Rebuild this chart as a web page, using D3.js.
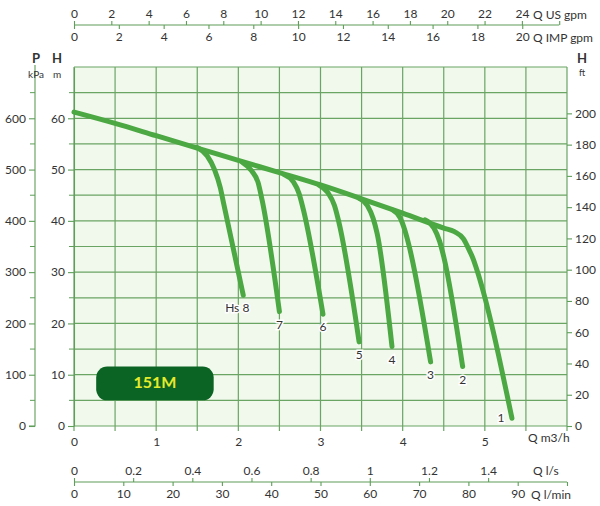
<!DOCTYPE html>
<html><head><meta charset="utf-8">
<script src="https://cdn.jsdelivr.net/npm/d3@7"></script>
<style>
body{margin:0;background:#fff}
text{font-family:Lato,"Open Sans",sans-serif;fill:#333}
</style>
</head><body><svg id="c" width="600" height="506"></svg>
<script>
// ---- data (Q in m3/h, H in m) ----
const curve1 = [[0,61.2],[0.5,59.0],[1,56.6],[1.5,54.2],[2,51.8],[2.5,49.4],[3,47.0],[3.5,44.3],[4,41.5],[4.5,38.6],[4.63,37.9],[4.74,36.5],[4.81,34.3],[4.86,32.5],[4.89,31.1],[5.33,1.5]];
const curve2 = [[4.27,40.2],[4.38,38.6],[4.45,36.0],[4.50,33.0],[4.73,11.6]];
const curve3 = [[3.88,42.1],[3.97,40.6],[4.03,38.0],[4.08,35.0],[4.34,12.5]];
const curve4 = [[3.47,44.4],[3.57,43.0],[3.64,40.5],[3.69,37.5],[3.87,15.5]];
const curve5 = [[2.98,47.0],[3.09,45.5],[3.17,43.0],[3.22,40.0],[3.47,16.4]];
const curve6 = [[2.56,49.0],[2.67,47.6],[2.74,45.3],[2.79,42.3],[3.03,21.8]];
const curve7 = [[2.05,51.4],[2.16,49.8],[2.24,47.5],[2.29,44.0],[2.50,22.3]];
const curve8 = [[1.50,54.3],[1.62,52.7],[1.71,50.0],[1.78,46.5],[1.82,43.5],[2.06,25.5]];
const curveLabels = ["1","2","3","4","5","6","7","Hs 8"];
const modelName = "151M";

const qM3hTicks = [0,1,2,3,4,5];
const usGpmTicks = [0,2,4,6,8,10,12,14,16,18,20,22,24];
const impGpmTicks = [0,2,4,6,8,10,12,14,16,18,20];
const lsTicks = [0,0.2,0.4,0.6,0.8,1,1.2,1.4];
const lminTicks = [0,10,20,30,40,50,60,70,80,90];
const hmTicks = [0,10,20,30,40,50,60];
const kpaTicks = [0,100,200,300,400,500,600];
const ftTicks = [0,20,40,60,80,100,120,140,160,180,200];

// ---- layout ----
const svg = d3.select("#c");
const L=74, R=567, B=426, T=67;
const x = d3.scaleLinear().domain([0,6]).range([L,R]);
const y = d3.scaleLinear().domain([0,70]).range([B,T]);
const GRID="#6aa564", AX="#5e9e58", LINE="#4ba842";
const fmt = d3.format("~g");

// derived unit scales
const xUS = d3.scaleLinear().domain([0,6/0.2271247]).range([L,R]);
const xIMP = d3.scaleLinear().domain([0,6/0.2727655]).range([L,R]);
const xLS = d3.scaleLinear().domain([0,6/3.6]).range([L,R]);
const xLMIN = d3.scaleLinear().domain([0,6/0.06]).range([L,R]);
const yKPA = d3.scaleLinear().domain([0,700]).range([B,T]);
const yFT = d3.scaleLinear().domain([0,70*3.28084]).range([B,T]);

// plot background
svg.append("rect").attr("x",L).attr("y",T).attr("width",R-L).attr("height",B-T).attr("fill","#f1f8ec");

// grid
const g = svg.append("g");
g.selectAll("line.v").data(d3.range(0,6.01,0.5)).join("line")
 .attr("x1",d=>x(d)).attr("x2",d=>x(d)).attr("y1",T).attr("y2",B+5)
 .attr("stroke",GRID).attr("stroke-width",1.2);
g.selectAll("line.h").data(d3.range(0,70.01,5)).join("line")
 .attr("x1",L).attr("x2",R).attr("y1",d=>y(d)).attr("y2",d=>y(d))
 .attr("stroke",GRID).attr("stroke-width",1.2);

function styleAxis(sel){
  sel.selectAll("path,line").attr("stroke",AX).attr("stroke-width",1.1);
  sel.selectAll("text").attr("font-size",12).attr("fill","#333").style("font-family","Lato,'Open Sans',sans-serif");
}

// left H m axis
const aH = svg.append("g").attr("transform",`translate(${L},0)`)
 .call(d3.axisLeft(y).tickValues(hmTicks).tickFormat(fmt).tickSize(6).tickPadding(3).tickSizeOuter(0));
styleAxis(aH);
aH.append("g").selectAll("line").data(d3.range(5,70,10)).join("line")
 .attr("x1",-5).attr("x2",0).attr("y1",d=>y(d)).attr("y2",d=>y(d)).attr("stroke",AX);

// kPa axis
const aP = svg.append("g").attr("transform","translate(35,0)")
 .call(d3.axisLeft(yKPA).tickValues(kpaTicks).tickFormat(fmt).tickSize(6).tickPadding(3).tickSizeOuter(0));
styleAxis(aP);
aP.select("path.domain").attr("d",`M0,${T-2}V${B}H-6`);
aP.append("g").selectAll("line").data(d3.range(50,700,100)).join("line")
 .attr("x1",-5).attr("x2",0).attr("y1",d=>yKPA(d)).attr("y2",d=>yKPA(d)).attr("stroke",AX);

// right ft axis
const aF = svg.append("g").attr("transform",`translate(${R},0)`)
 .call(d3.axisRight(yFT).tickValues(ftTicks).tickFormat(fmt).tickSize(5).tickPadding(3).tickSizeOuter(0));
styleAxis(aF);
aF.select("path.domain").remove();

// bottom m3/h labels
const aQ = svg.append("g").attr("transform",`translate(0,${B})`)
 .call(d3.axisBottom(x).tickValues(qM3hTicks).tickFormat(fmt).tickSize(0).tickPadding(11));
styleAxis(aQ);
aQ.select("path.domain").remove();
aQ.selectAll(".tick line").remove();

// top axes (US gpm up, IMP gpm down)
const topY = 25;
const aUS = svg.append("g").attr("transform",`translate(0,${topY})`)
 .call(d3.axisTop(xUS).tickValues(usGpmTicks.concat([26])).tickFormat(d=>d===26?"":fmt(d)).tickSize(4).tickPadding(3).tickSizeOuter(0));
styleAxis(aUS);
aUS.select("path.domain").attr("d",`M${L},0H${xUS(26)}`);
const aIMP = svg.append("g").attr("transform",`translate(0,${topY})`)
 .call(d3.axisBottom(xIMP).tickValues(impGpmTicks).tickFormat(fmt).tickSize(4).tickPadding(3).tickSizeOuter(0));
styleAxis(aIMP);
aIMP.select("path.domain").remove();

// bottom flow axes (l/s up, l/min down)
const botY = 482;
const aLS = svg.append("g").attr("transform",`translate(0,${botY})`)
 .call(d3.axisTop(xLS).tickValues(lsTicks).tickFormat(fmt).tickSize(4).tickPadding(3).tickSizeOuter(0));
styleAxis(aLS);
aLS.select("path.domain").attr("d",`M${L},0H${xLMIN(100)}`);
const aLM = svg.append("g").attr("transform",`translate(0,${botY})`)
 .call(d3.axisBottom(xLMIN).tickValues(lminTicks.concat([100])).tickFormat(d=>d===100?"":fmt(d)).tickSize(4).tickPadding(3).tickSizeOuter(0));
styleAxis(aLM);
aLM.select("path.domain").remove();

// unit labels
const unit = (tx,ty,t,opt={})=>svg.append("text").attr("x",tx).attr("y",ty).text(t)
  .attr("font-size",opt.size||12).attr("font-weight",opt.bold?"bold":null)
  .attr("text-anchor",opt.anchor||"start");
unit(533,19,"Q US gpm");
unit(533,42,"Q IMP gpm");
unit(528,442,"Q m3/h");
unit(533,475,"Q l/s");
unit(531,499,"Q l/min");
unit(36,63,"P",{bold:true,size:13,anchor:"middle"});
unit(36,78,"kPa",{size:10,anchor:"middle"});
unit(57,63,"H",{bold:true,size:13,anchor:"middle"});
unit(57,78,"m",{size:10,anchor:"middle"});
unit(582,63,"H",{bold:true,size:13,anchor:"middle"});
unit(582,76,"ft",{size:9,anchor:"middle"});

// curves
const curves = [curve1,curve2,curve3,curve4,curve5,curve6,curve7,curve8];
const line = d3.line().x(d=>x(d[0])).y(d=>y(d[1])).curve(d3.curveMonotoneX);
svg.append("g").selectAll("path").data(curves).join("path")
 .attr("d",line).attr("fill","none").attr("stroke",LINE).attr("stroke-width",5)
 .attr("stroke-linecap","round").attr("stroke-linejoin","round");

// curve labels
svg.append("g").selectAll("text").data(curves).join("text")
 .attr("x",(d,i)=>x(d[d.length-1][0]) + (i===0?-11:(i===7?-6:0)))
 .attr("y",(d,i)=>y(d[d.length-1][1]) + (i===0?4:17))
 .attr("text-anchor","middle").attr("font-size",12)
 .attr("stroke","#fff").attr("stroke-width",3).attr("paint-order","stroke")
 .text((d,i)=>curveLabels[i]);

// model box
const bx = svg.append("g");
bx.append("rect").attr("x",x(0.27)).attr("y",y(11.6)).attr("width",x(1.7)-x(0.27)).attr("height",y(5)-y(11.6))
 .attr("rx",11).attr("fill","#0b6423");
bx.append("text").attr("x",(x(0.27)+x(1.7))/2).attr("y",y(8.3)+5).attr("text-anchor","middle")
 .attr("font-size",16).attr("font-weight","bold").style("fill","#e6ea2c").text(modelName);
</script></body></html>
